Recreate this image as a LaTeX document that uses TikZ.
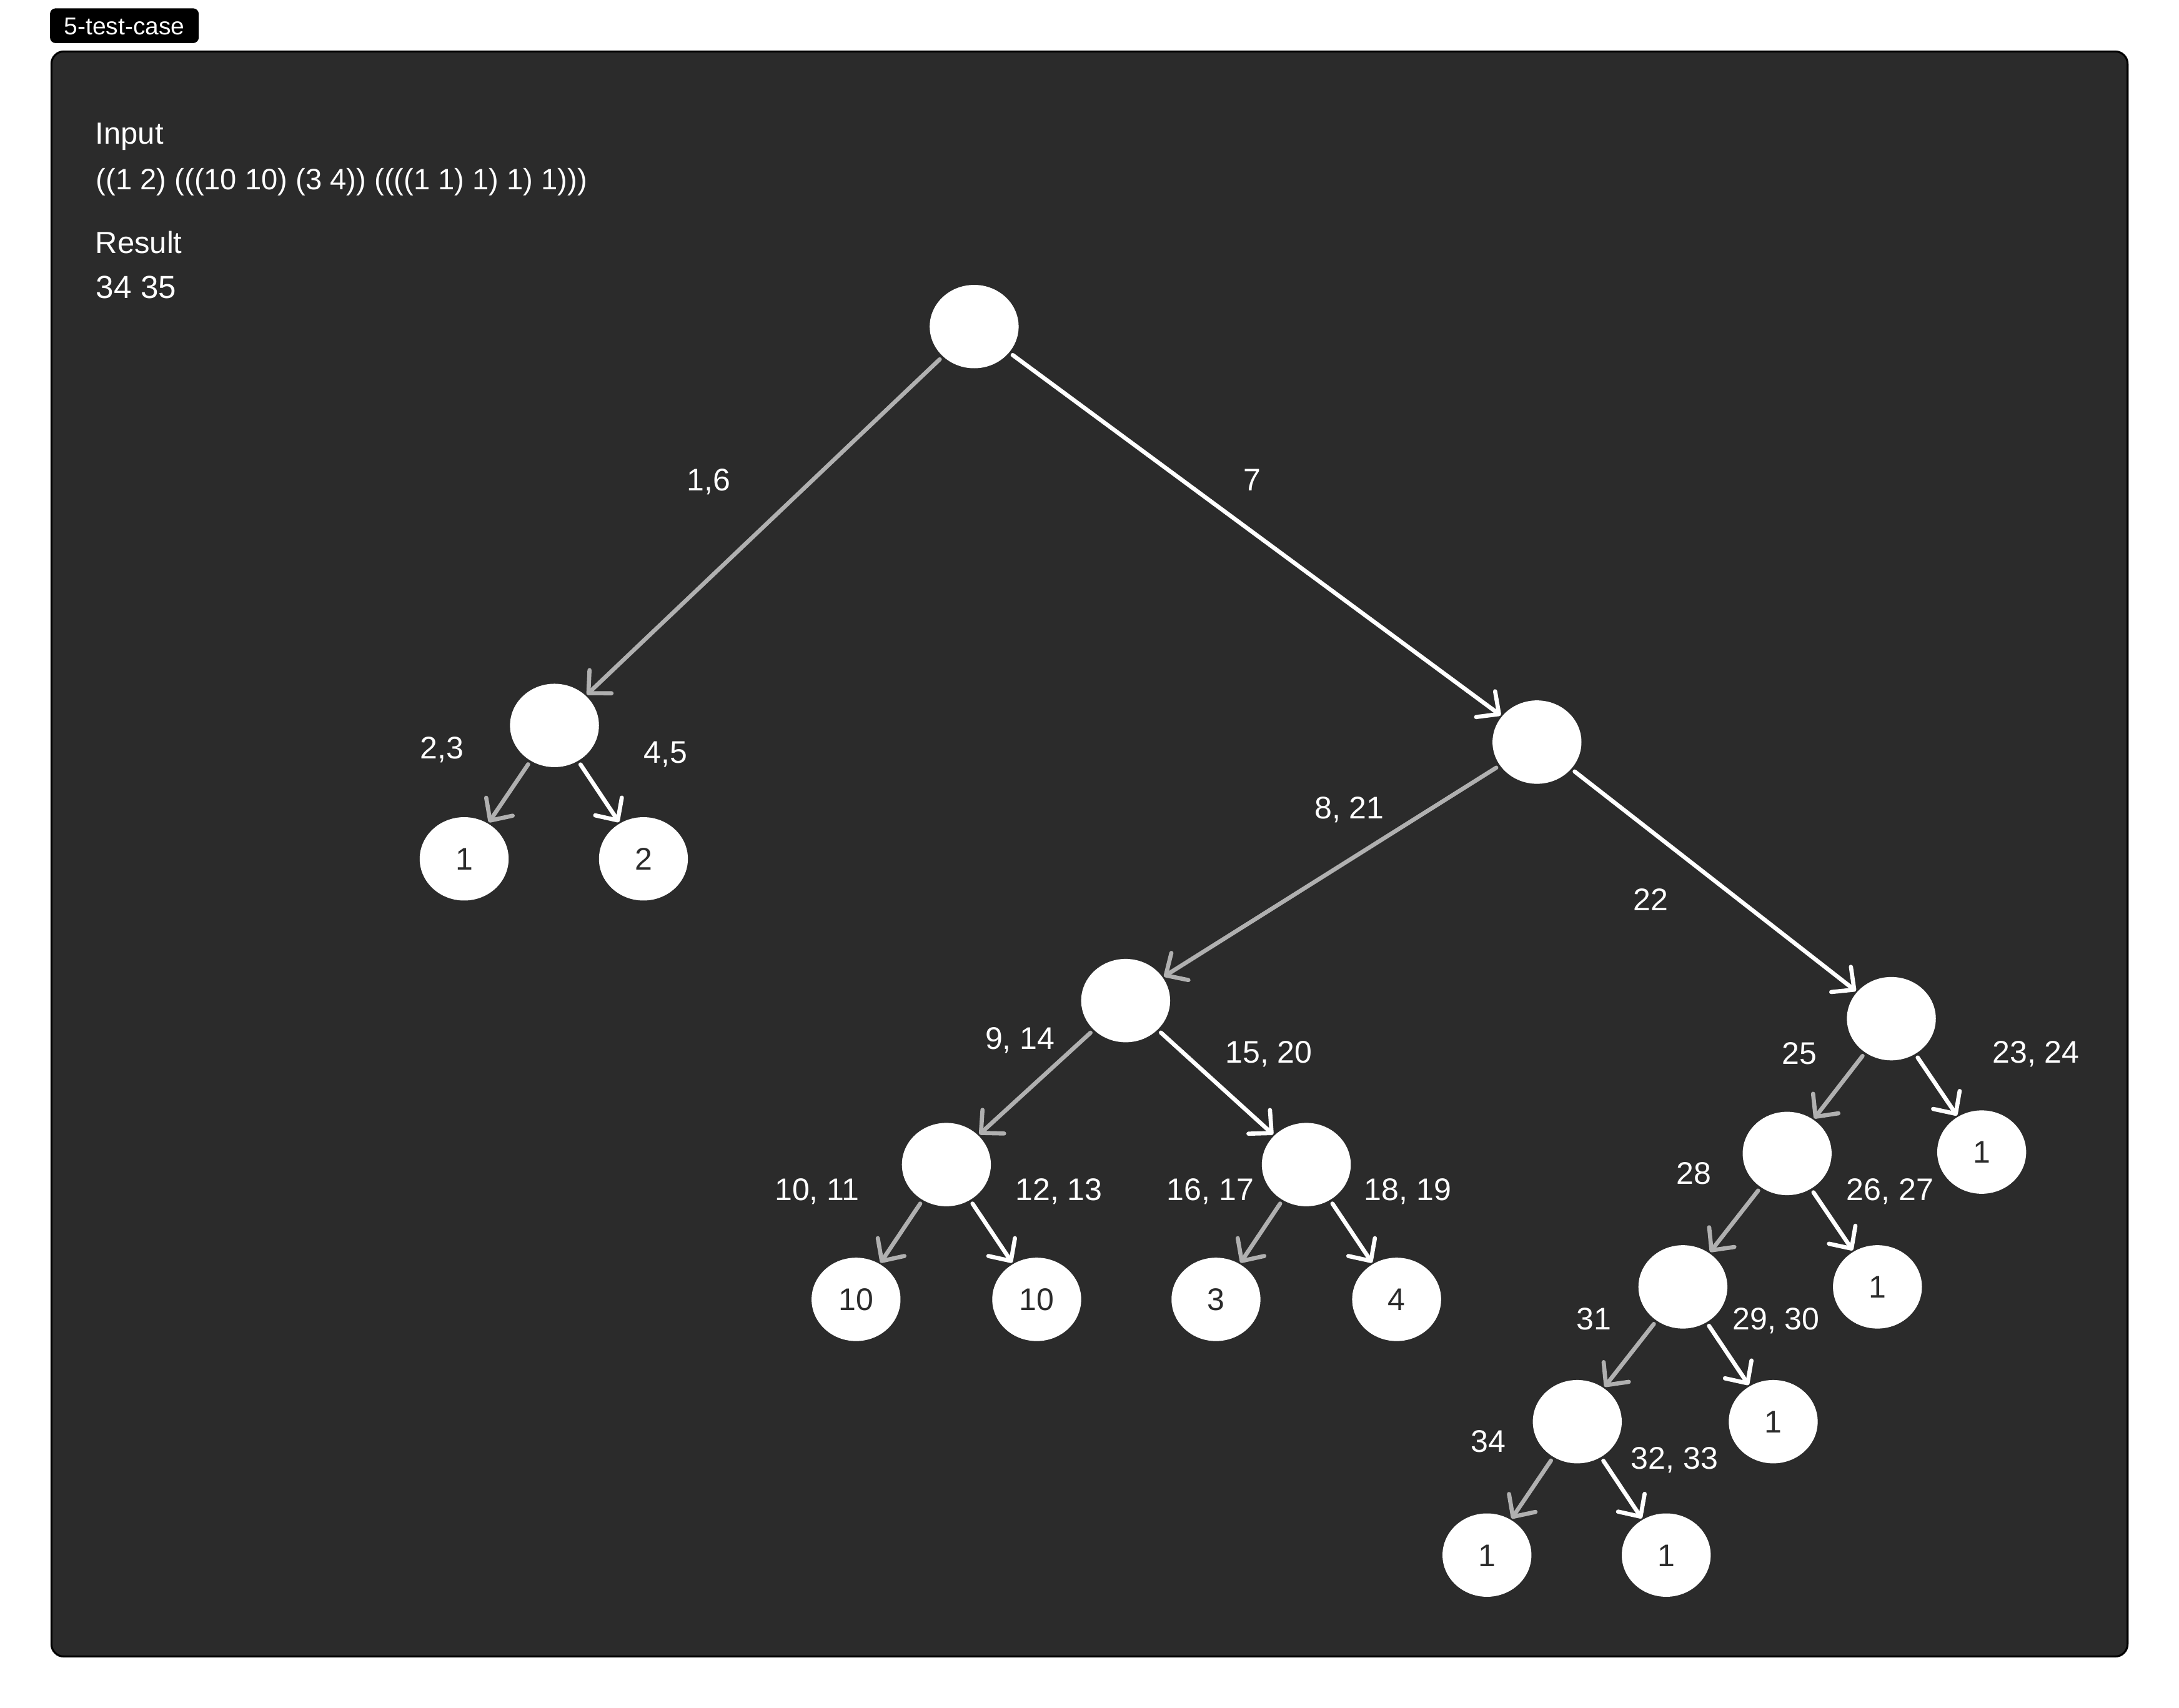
\documentclass[tikz,border=0pt]{standalone}
\usepackage{fontspec}
\setmainfont{Liberation Sans}
\usetikzlibrary{shapes.geometric,arrows.meta}
\definecolor{panel}{HTML}{2B2B2B}
\definecolor{edgegray}{HTML}{B0B0B0}
\begin{document}
\begin{tikzpicture}[x=1pt,y=-1pt,
  nd/.style={ellipse, fill=white, minimum width=64pt, minimum height=60pt, inner sep=0pt,
    text=panel, font=\fontsize{22.5}{26}\selectfont, text height=16pt, text depth=0pt},
  lbl/.style={text=white, font=\fontsize{22.5}{26}\selectfont, inner sep=0pt, text height=16pt, text depth=0pt},
  txt/.style={text=white, font=\fontsize{22}{26}\selectfont, inner sep=0pt, anchor=base west},
  ge/.style={draw=edgegray, line width=3pt, line cap=round,
    -{Straight Barb[length=12pt,width=23pt,round]}, shorten <=3pt, shorten >=1pt},
  we/.style={ge, draw=white},
]
\useasboundingbox (0,0) rectangle (1568,1229);
\fill[white] (0,0) rectangle (1568,1229);
% panel
\draw[fill=panel, draw=black, line width=1.4pt, rounded corners=9pt] (37,37) rectangle (1531,1192);
% tag
\node[fill=black, rounded corners=4pt, minimum width=107pt, minimum height=25pt, inner sep=0pt,
  text=white, font=\fontsize{17.5}{20}\selectfont, text height=12.5pt, text depth=0pt] (tag) at (89.5,18.5) {5-test-case};
% text block
\node[txt] (input) at (68.5,103.7) {Input};
\node[txt, font=\fontsize{21.2}{25}\selectfont] (expr) at (69,136.4) {((1 2) (((10 10) (3 4)) ((((1 1) 1) 1) 1)))};
\node[txt] (result) at (68.5,182.5) {Result};
\node[txt, font=\fontsize{23}{26}\selectfont] (res) at (69,214.6) {34 35};
% nodes
\node[nd] (root) at (701,235) {};
\node[nd] (A) at (399,522) {};
\node[nd] (A1) at (334,618) {1};
\node[nd] (A2) at (463,618) {2};
\node[nd] (B) at (1106,534) {};
\node[nd] (C) at (810,720) {};
\node[nd] (D) at (681,838) {};
\node[nd] (D1) at (616,935) {10};
\node[nd] (D2) at (746,935) {10};
\node[nd] (E) at (940,838) {};
\node[nd] (E1) at (875,935) {3};
\node[nd] (E2) at (1005,935) {4};
\node[nd] (F) at (1361,733) {};
\node[nd] (Fr) at (1426,829) {1};
\node[nd] (G) at (1286,830) {};
\node[nd] (Gr) at (1351,926) {1};
\node[nd] (H) at (1211,926) {};
\node[nd] (Hr) at (1276,1023) {1};
\node[nd] (I) at (1135,1023) {};
\node[nd] (I1) at (1070,1119) {1};
\node[nd] (I2) at (1199,1119) {1};
% edges
\draw[ge] (root) -- (A);
\draw[we] (root) -- (B);
\draw[ge] (A) -- (A1);
\draw[we] (A) -- (A2);
\draw[ge] (B) -- (C);
\draw[we] (B) -- (F);
\draw[ge] (C) -- (D);
\draw[we] (C) -- (E);
\draw[ge] (D) -- (D1);
\draw[we] (D) -- (D2);
\draw[ge] (E) -- (E1);
\draw[we] (E) -- (E2);
\draw[ge] (F) -- (G);
\draw[we] (F) -- (Fr);
\draw[ge] (G) -- (H);
\draw[we] (G) -- (Gr);
\draw[ge] (H) -- (I);
\draw[we] (H) -- (Hr);
\draw[ge] (I) -- (I1);
\draw[we] (I) -- (I2);
% edge labels
\node[lbl] (l16) at (510,345) {1,6};
\node[lbl] (l7) at (901,345) {7};
\node[lbl] (l23) at (318,538) {2,3};
\node[lbl] (l45) at (479,541) {4,5};
\node[lbl] (l821) at (971,581) {8, 21};
\node[lbl] (l22) at (1188,647) {22};
\node[lbl] (l914) at (734,747) {9, 14};
\node[lbl] (l1520) at (913,757) {15, 20};
\node[lbl] (l1011) at (588,856) {10, 11};
\node[lbl] (l1213) at (762,856) {12, 13};
\node[lbl] (l1617) at (871,856) {16, 17};
\node[lbl] (l1819) at (1013,856) {18, 19};
\node[lbl] (l25) at (1295,758) {25};
\node[lbl] (l2324) at (1465,757) {23, 24};
\node[lbl] (l28) at (1219,844) {28};
\node[lbl] (l2627) at (1360,856) {26, 27};
\node[lbl] (l31) at (1147,949) {31};
\node[lbl] (l2930) at (1278,949) {29, 30};
\node[lbl] (l34) at (1071,1037) {34};
\node[lbl] (l3233) at (1205,1049) {32, 33};
\end{tikzpicture}
\end{document}
